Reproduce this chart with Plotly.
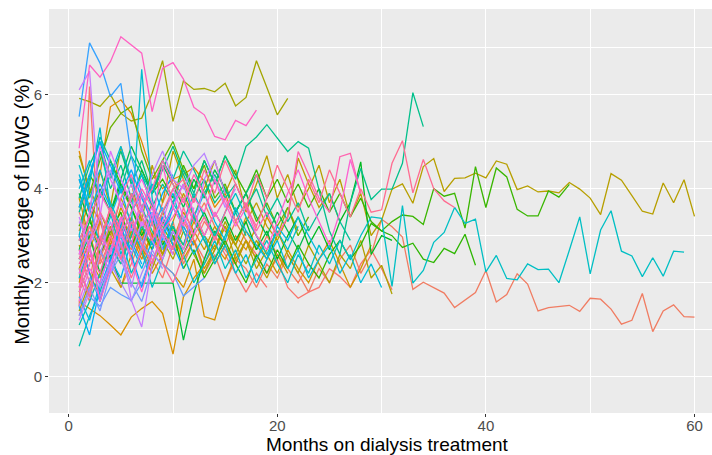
import plotly.graph_objects as go

# Monthly average interdialytic weight gain (IDWG, %) per patient.
# Each list holds consecutive monthly values starting at month 1.

# --- salmon hues ---
idwg_01 = [2.2, 1.8, 2.9, 2.5, 3.1, 2.7, 3.4, 3.0, 2.6, 3.3,
           2.4, 2.9, 2.2, 2.6, 2.0, 2.5, 2.3, 1.9, 2.4, 2.1,
           2.6, 2.2, 1.8, 2.3, 2.0, 2.5, 2.8, 2.2, 2.6, 3.35,
           3.19, 2.97, 1.86, 2.01, 1.90, 1.78, 1.47, 1.63, 1.79, 2.26,
           1.59, 1.75, 2.19, 1.97, 1.40, 1.47, 1.50, 1.52, 1.39, 1.67,
           1.65, 1.44, 1.12, 1.20, 1.77, 0.96, 1.40, 1.53, 1.28, 1.27]
idwg_02 = [2.1, 1.6, 2.8, 3.2, 2.5, 3.0, 2.7, 3.5, 3.1, 2.6,
           3.3, 2.9, 2.5, 3.0, 2.7, 2.4, 2.9, 2.6, 2.2, 2.5,
           1.9, 1.67, 1.8, 1.9, 2.3, 2.13, 1.9, 2.4, 2.7, 2.3, 1.85]
idwg_03 = [1.5, 6.17, 2.5, 3.1, 2.7, 3.4, 2.9]
idwg_04 = [2.6, 3.2, 2.8, 3.6, 3.1, 3.9, 3.4, 3.0, 3.7, 4.2,
           3.8, 3.3, 3.7, 3.2, 2.8, 3.3, 2.9, 2.5, 3.0, 2.6,
           2.3, 2.0, 2.4, 2.1]
idwg_05 = [1.3, 1.9, 2.5, 2.2, 2.8, 3.2, 2.9, 3.5, 3.1, 2.7,
           3.2, 2.8, 3.3, 3.0, 2.6, 2.2, 1.8, 2.2, 1.9]
idwg_06 = [3.5, 3.0, 2.4, 2.9, 2.5, 3.1, 2.6, 2.2]
idwg_07 = [2.7, 2.0, 3.3, 2.6, 1.9, 2.4, 3.0, 2.5, 2.1, 2.8,
           3.4, 2.9, 2.3]

# --- orange hues ---
idwg_08 = [1.6, 1.45, 1.3, 1.1, 0.89, 1.27, 1.45, 1.6, 1.35, 0.48,
           1.7, 2.1, 2.4, 2.8, 2.5, 3.0, 2.7, 3.2]
idwg_09 = [4.8, 3.9, 4.3, 5.74, 5.89, 5.6, 5.0, 4.3, 4.0, 4.2,
           4.3, 4.45, 4.15, 3.6, 3.9, 3.3, 3.7]
idwg_10 = [3.1, 3.7, 3.3, 2.8, 3.4, 3.0, 2.5, 3.0, 3.5, 3.1,
           2.7, 3.3, 2.9, 2.4, 2.8]
idwg_11 = [2.0, 2.7, 3.3, 2.9, 3.6, 3.1, 2.6, 3.0, 2.4, 2.2,
           1.9, 2.5, 1.28, 1.21, 2.0, 2.6, 3.1, 2.7, 3.4, 3.0]
idwg_12 = [3.0, 2.5, 2.1, 2.8, 2.4, 3.1, 2.7, 2.2, 2.6, 3.0,
           2.5, 2.9, 2.3, 2.7, 3.2, 2.8, 3.4, 3.0, 2.6, 2.2,
           2.7, 2.3, 2.0, 2.5, 2.9, 2.4, 1.9, 2.3, 2.8]

# --- gold / olive hues ---
idwg_13 = [3.8, 2.9, 4.4, 3.6, 4.9, 4.1, 3.3, 4.5, 3.7, 4.8,
           4.2, 3.4, 4.0, 4.6, 3.9, 4.4, 3.5, 4.1, 4.7, 3.8,
           4.3, 3.6, 4.0, 4.5, 3.7, 4.2, 3.4, 3.9, 3.0, 3.33,
           3.99, 4.10, 3.69, 4.47, 4.64, 3.94, 4.22, 4.23, 4.33, 4.23,
           4.59, 4.52, 3.98, 4.06, 3.93, 3.95, 3.91, 4.13, 3.99, 3.80,
           3.45, 4.32, 4.18, 3.85, 3.52, 3.46, 4.12, 3.70, 4.19, 3.41]
idwg_14 = [5.92, 5.85, 5.75, 6.0, 5.6, 5.44, 5.5, 6.03, 6.72, 5.43,
           6.29, 6.11, 6.13, 6.06, 6.24, 5.76, 5.94, 6.72, 6.15, 5.57, 5.92]
idwg_15 = [4.7, 4.0, 3.5, 3.0, 3.8, 3.3, 2.9, 3.4, 2.6, 3.1,
           2.8, 3.5, 3.0, 2.7, 3.2, 2.5, 2.9, 2.3, 2.7, 3.1,
           2.6, 2.2, 2.8, 2.4, 2.0, 2.6, 2.3, 2.9, 2.1, 2.37, 1.76]
idwg_16 = [2.3, 2.9, 3.4, 2.7, 3.2, 2.5, 3.6, 3.0, 2.6, 3.3,
           3.9, 3.4, 3.0, 3.5, 3.1, 2.8, 3.3, 3.7, 3.2, 2.9,
           3.4, 4.65, 4.1, 3.6, 3.9, 3.3]
idwg_17 = [2.8, 2.2, 1.7, 2.3, 1.9, 2.6, 3.1, 2.7, 3.4, 2.9,
           3.5, 3.1, 2.7, 3.2, 2.8, 2.4, 2.9, 2.5, 2.1, 2.6, 2.2]
idwg_18 = [1.4, 2.0, 2.6, 3.2, 2.7, 3.3, 2.8, 2.3, 2.9, 2.5,
           3.1, 2.6, 2.2, 2.7, 3.3, 2.8, 2.4, 2.9, 2.5, 3.0,
           3.6, 3.1]

# --- green hues ---
idwg_19 = [3.2, 3.9, 4.6, 5.3, 5.6, 5.75, 4.8, 4.2, 4.6, 5.0,
           4.4, 4.0, 4.5, 3.8, 4.1, 3.5, 3.9, 3.3, 3.7, 3.2,
           3.6, 3.0, 3.4]
idwg_20 = [1.8, 2.4, 2.9, 3.5, 4.0, 3.6, 3.1, 3.7, 3.2, 2.8]
idwg_21 = [3.6, 4.3, 3.9, 4.6, 4.1, 3.7, 4.4, 3.9, 4.2, 3.8,
           4.5, 4.0, 4.6, 4.1, 4.7, 4.3, 3.9, 4.4, 3.8, 4.2,
           3.7, 4.1, 3.6, 4.0, 3.5, 3.9, 3.4, 3.8, 3.3, 3.1,
           3.3, 3.44, 3.41, 3.24, 4.00, 3.84, 3.90, 3.16, 4.47, 3.60,
           4.44, 4.25, 3.56, 3.42, 3.42, 3.95, 3.82, 4.09]
idwg_22 = [3.9, 3.3, 2.9, 3.5, 4.1, 3.6, 3.0, 3.4, 2.8, 3.2,
           2.6, 3.1, 3.5, 3.0, 3.4, 2.9, 3.3, 2.7, 3.1, 2.5,
           3.0, 3.4, 2.8, 3.2, 2.7, 3.3, 3.7, 4.57, 2.6, 3.0, 2.9]
idwg_23 = [2.9, 3.4, 2.6, 3.1, 3.5, 2.8, 3.2, 2.7, 3.3, 3.0,
           2.3, 2.7, 2.1, 2.5, 2.9, 2.4, 2.0, 2.6, 2.2, 2.7,
           2.3, 2.8, 2.4, 2.1, 2.6, 2.9, 2.5, 2.8, 3.26, 3.1,
           3.0, 2.75, 2.84, 2.50, 2.43, 2.73, 2.62, 3.03, 2.37]
idwg_24 = [2.5, 3.0, 2.2, 2.6, 1.99, 1.99, 1.99, 1.99, 1.99, 1.99,
           0.78, 1.77, 2.5, 3.1, 2.8]
idwg_25 = [2.7, 3.3, 4.0, 3.5, 4.2, 4.9, 4.4, 3.9, 4.5, 4.1,
           3.6, 4.2, 3.8, 4.4, 4.0, 3.5, 3.9, 3.4, 3.0, 3.5,
           3.1, 2.7, 3.2]

# --- teal-green hues ---
idwg_26 = [4.2, 3.5, 4.8, 4.0, 4.5, 3.8, 4.3, 3.6, 4.1, 3.7,
           4.4, 3.9, 4.6, 4.1, 4.7, 4.2, 4.9, 5.1, 5.36, 5.07,
           4.79, 5.00, 4.86, 3.97, 3.10, 2.60, 3.70, 4.43, 3.77, 3.99,
           3.99, 4.54, 6.04, 5.32]
idwg_27 = [3.8, 4.5, 5.0, 4.2, 4.8, 4.1, 4.6, 3.9, 4.4, 4.9,
           4.3, 3.8, 4.2, 3.7, 4.0, 3.5, 3.9, 4.3, 3.6, 3.2]
idwg_28 = [3.5, 4.2, 5.1, 4.6, 4.0, 4.7, 4.3, 3.9, 4.6, 4.2,
           4.8, 4.4, 3.9, 4.3, 3.8, 4.1, 3.6, 4.0, 3.4, 3.8,
           3.3, 3.7, 3.1, 3.5, 3.9, 3.3, 2.9]
idwg_29 = [1.1, 1.6, 2.2, 2.8, 2.4, 3.0, 3.6, 3.1, 2.7, 3.2,
           2.8, 3.4, 2.9, 2.5, 3.0, 3.5, 3.0]

# --- teal hues ---
idwg_30 = [0.65, 1.3, 1.8, 2.5, 3.0, 2.6, 3.2, 2.8, 3.5]
idwg_31 = [4.5, 3.8, 4.4, 3.7, 3.2, 3.8, 4.3, 3.6, 3.1, 3.7,
           3.3, 3.9, 3.4, 3.0, 3.5, 3.9, 3.4, 3.0, 2.6, 3.1,
           2.7, 3.2]
idwg_32 = [2.1, 2.8, 1.6, 2.4, 3.0, 2.2, 2.7, 1.9, 2.5, 3.1,
           2.6, 2.0, 2.4, 2.9, 2.3, 2.7, 2.1, 2.5, 2.9, 2.4,
           2.0, 2.6, 2.2, 2.8, 2.4, 2.9, 2.5, 3.0, 3.4, 3.37,
           1.92, 3.64, 1.99, 2.26, 2.86, 3.07, 3.60, 3.26, 3.35, 2.23,
           2.58, 2.09, 2.06, 2.40, 2.28, 2.29, 2.00, 2.69, 3.40, 2.19,
           3.12, 3.53, 2.67, 2.57, 2.13, 2.53, 2.14, 2.67, 2.65]
idwg_33 = [3.0, 4.1, 5.3, 3.5, 2.6, 3.2, 6.54, 3.8, 2.7, 3.3]
idwg_34 = [4.0, 4.6, 3.8, 4.3, 4.9, 4.2, 3.6, 4.1, 3.5, 3.9,
           3.1, 2.6, 3.0, 2.4, 2.8, 2.2, 2.6, 2.0, 2.5, 2.9,
           2.3, 2.7, 2.1, 2.5, 2.8, 2.2, 2.6, 2.0, 2.4, 1.9]
idwg_35 = [4.3, 3.6, 2.8, 3.4, 4.0, 3.2, 2.7, 3.5, 3.0, 3.7,
           4.1, 3.4, 3.9, 3.3, 2.9, 3.6, 3.1, 2.8, 2.5, 3.2,
           2.9, 3.4, 3.0, 2.6]
idwg_36 = [1.7, 1.2, 2.0, 2.7, 3.3, 2.8, 2.3, 2.9, 3.4]

# --- sky-blue hues ---
idwg_37 = [5.53, 7.1, 6.67, 5.96, 6.24, 4.68, 3.9, 3.2, 3.6, 2.9]
idwg_38 = [1.5, 0.89, 1.9, 2.5, 2.1, 2.9, 2.4]
idwg_39 = [3.6, 4.3, 5.0, 4.5, 3.9, 4.4, 3.8, 3.3, 3.9, 4.3]
idwg_40 = [4.2, 3.5, 4.1, 3.6, 3.0, 3.5, 3.9, 3.4, 2.9, 3.6,
           3.2, 2.8]
idwg_41 = [3.0, 2.2, 1.6, 2.5, 3.2, 2.6, 1.9, 2.7, 3.4, 2.8, 2.3]

# --- blue hues ---
idwg_42 = [2.3, 1.7, 1.5, 1.9, 1.75, 1.63, 2.0, 2.6, 2.4, 2.2,
           1.72, 1.9, 2.1]
idwg_43 = [1.3, 1.9, 1.4, 2.2, 2.6, 2.0, 1.6, 2.3]
idwg_44 = [2.5, 3.1, 2.7, 2.2, 2.8, 3.3, 2.9, 2.4, 3.0, 2.6]

# --- purple / magenta hues ---
idwg_45 = [6.1, 6.5, 3.5, 2.2, 2.9, 1.63, 1.06, 2.4, 3.1, 2.7,
           3.4, 3.0, 4.2, 4.6, 3.9]
idwg_46 = [3.3, 2.8, 3.9, 4.4, 3.6, 4.1, 3.5, 4.3, 4.8, 4.2,
           4.0, 4.5, 4.75, 4.2, 3.6, 4.0]
idwg_47 = [3.4, 2.7, 1.9, 2.4, 3.0, 2.6, 3.3, 2.9, 2.5, 3.1,
           2.7, 3.6]
idwg_48 = [1.5, 2.1, 1.7, 2.4, 2.0, 1.6, 2.2, 2.7, 2.3]
idwg_49 = [1.2, 1.8, 2.6, 3.3, 2.5, 1.9, 2.8, 3.5, 2.7]
idwg_50 = [2.6, 3.5, 4.9, 4.2, 3.7, 3.1, 3.6, 2.9, 3.3, 4.0, 3.4]
idwg_51 = [2.2, 2.8, 3.4, 4.8, 4.2, 3.7, 3.2, 3.6, 3.0, 2.6]

# --- pink hues ---
idwg_52 = [4.86, 6.63, 6.37, 6.70, 7.23, 7.06, 6.88, 5.64, 6.56, 6.68,
           6.33, 5.73, 5.57, 5.11, 5.04, 5.45, 5.34, 5.67]
idwg_53 = [1.8, 2.4, 3.0, 2.6, 3.4, 2.8, 3.9, 3.3, 4.5, 3.6,
           3.2, 3.8, 3.5, 4.2, 3.7, 3.2, 3.6, 3.0, 2.7, 3.3,
           3.9, 4.4, 3.8, 3.3, 2.8, 3.5, 4.62, 3.9]
idwg_54 = [2.4, 2.9, 3.5, 3.1, 3.8, 4.3, 3.6, 4.0, 4.6, 4.1,
           3.7, 4.3, 3.9, 3.4, 3.8, 3.3, 3.7, 3.1, 3.5, 3.0,
           3.4, 4.79, 4.3, 3.8, 3.5, 4.68, 4.75, 3.9]
idwg_55 = [1.6, 2.3, 2.0, 2.7, 3.3, 3.8, 4.2, 3.7, 3.2, 3.6,
           4.1, 3.5, 3.0, 3.5, 3.1]
idwg_56 = [2.5, 3.2, 2.8, 3.6, 3.1, 3.9, 3.4, 2.9, 3.5, 4.0,
           4.2, 3.7, 4.4, 3.9, 4.6, 4.1, 3.6, 4.3, 3.8, 4.5,
           4.0, 3.5, 4.2, 3.7, 4.4, 3.9, 3.4, 4.0, 3.5, 3.55,
           4.54, 5.02, 3.91, 4.62, 4.00, 3.74, 3.60]
idwg_57 = [1.9, 2.6, 2.2, 3.0, 2.5, 3.3, 2.8, 2.4, 3.1, 2.7,
           3.6, 3.0, 3.4, 2.9, 3.5, 4.1, 3.6, 3.2, 3.8]
idwg_58 = [2.9, 3.4, 3.9, 3.5, 3.0, 3.5, 4.0, 3.6, 3.1, 3.4,
           3.8, 3.3]
idwg_59 = [1.9, 2.8, 1.6, 2.3, 3.1, 2.5, 1.8, 2.6]
idwg_60 = [2.3, 1.7, 2.9, 3.6, 2.8, 2.1, 2.7, 3.3, 2.4, 2.0,
           2.6, 3.0]

patients = [idwg_01, idwg_02, idwg_03, idwg_04, idwg_05, idwg_06, idwg_07,
            idwg_08, idwg_09, idwg_10, idwg_11, idwg_12, idwg_13, idwg_14,
            idwg_15, idwg_16, idwg_17, idwg_18, idwg_19, idwg_20, idwg_21,
            idwg_22, idwg_23, idwg_24, idwg_25, idwg_26, idwg_27, idwg_28,
            idwg_29, idwg_30, idwg_31, idwg_32, idwg_33, idwg_34, idwg_35,
            idwg_36, idwg_37, idwg_38, idwg_39, idwg_40, idwg_41, idwg_42,
            idwg_43, idwg_44, idwg_45, idwg_46, idwg_47, idwg_48, idwg_49,
            idwg_50, idwg_51, idwg_52, idwg_53, idwg_54, idwg_55, idwg_56,
            idwg_57, idwg_58, idwg_59, idwg_60]

# One colour per patient line (same order as `patients`)
line_colors = [
    "#F07C62", "#F8766D", "#F8766D", "#F37B59", "#F8766D", "#F47A62", "#F8766D",
    "#D89000", "#E58700", "#E08B00", "#D39200", "#CF9400",
    "#B79F00", "#A3A500", "#AFA100", "#BB9D00", "#C49A00", "#A8A400",
    "#6BB100", "#7CAE00", "#39B600", "#00B81F", "#2DB600", "#00BA38", "#00BB4E",
    "#00C08B", "#00BF7D", "#00C097", "#00C1A3",
    "#00C0AF", "#00BFC4", "#00BFC4", "#00BDD0", "#00BCD8", "#00BADE", "#00B8E7",
    "#35A2FF", "#00B0F6", "#00A9FF", "#00ABFD", "#00A5FF",
    "#619CFF", "#7997FF", "#6E9AFF",
    "#C77CFF", "#B983FF", "#CF78FF", "#A58AFF", "#BF80FF", "#E76BF3", "#DB72FB",
    "#FF61C3", "#FD61D1", "#FF64B0", "#F763E0", "#FF6C91", "#FF689F", "#FF62BC",
    "#FF61C9", "#FF6A98",
]

fig = go.Figure()
for vals, col in zip(patients, line_colors):
    months = list(range(1, len(vals) + 1))
    fig.add_trace(go.Scatter(
        x=months, y=vals, mode="lines",
        line=dict(color=col, width=1.3),
        hoverinfo="skip", showlegend=False,
    ))

tick_font = dict(family="Liberation Sans, Arial, sans-serif", size=15, color="#4D4D4D")

fig.update_xaxes(
    range=[-1.89, 61.68], tickvals=[0, 20, 40, 60], ticktext=["0", "20", "40", "60"],
    showgrid=True, gridcolor="#FFFFFF", gridwidth=1.4,
    minor=dict(tickvals=[10, 30, 50], showgrid=True, gridcolor="#FFFFFF", gridwidth=0.7, ticks=""),
    ticks="outside", ticklen=3, tickwidth=1, tickcolor="#333333",
    tickfont=tick_font, ticklabelstandoff=-4, zeroline=False, showline=False,
)
fig.update_yaxes(
    range=[-0.77, 7.82], tickvals=[0, 2, 4, 6], ticktext=["0", "2", "4", "6"],
    showgrid=True, gridcolor="#FFFFFF", gridwidth=1.4,
    minor=dict(tickvals=[1, 3, 5, 7], showgrid=True, gridcolor="#FFFFFF", gridwidth=0.7, ticks=""),
    ticks="outside", ticklen=3, tickwidth=1, tickcolor="#333333",
    tickfont=tick_font, zeroline=False, showline=False,
)

title_font = dict(family="Liberation Sans, Arial, sans-serif", size=19, color="#000000")
fig.update_layout(
    width=712, height=455,
    margin=dict(l=49, r=0, t=9, b=42, pad=0),
    paper_bgcolor="#FFFFFF", plot_bgcolor="#EBEBEB",
    showlegend=False,
    annotations=[
        dict(text="Months on dialysis treatment", xref="paper", yref="paper",
             x=0.511, y=-0.077, xanchor="center", yanchor="middle",
             showarrow=False, font=title_font),
        dict(text="Monthly average of IDWG (%)", xref="paper", yref="paper",
             x=-0.041, y=0.5, xanchor="center", yanchor="middle", textangle=-90,
             showarrow=False, font=dict(family="Liberation Sans, Arial, sans-serif",
                                        size=20, color="#000000")),
    ],
)

fig.write_html("out.html")
